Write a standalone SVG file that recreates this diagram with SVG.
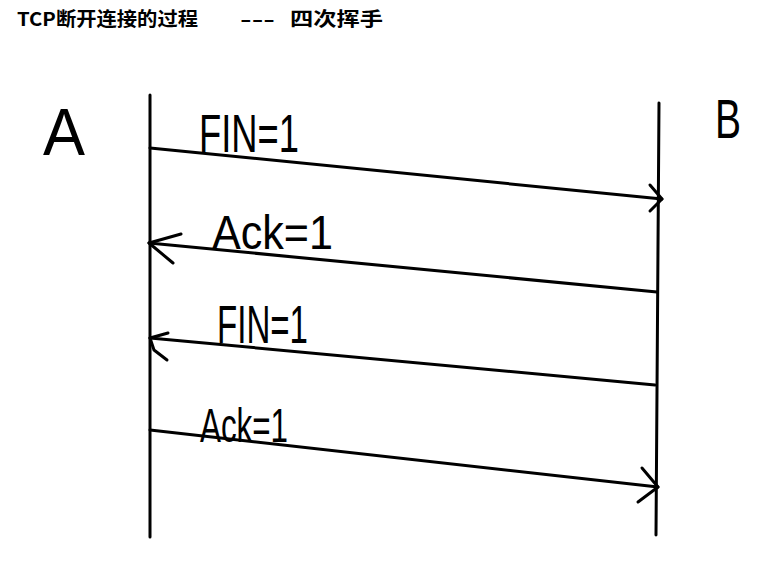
<svg xmlns="http://www.w3.org/2000/svg" width="784" height="582" viewBox="0 0 784 582">
<style>
.ln{stroke:#000;stroke-width:3;fill:none;stroke-linecap:round;stroke-linejoin:round}
.hw{font-family:"Liberation Sans",Arial,sans-serif;fill:#000}
.title{font-family:"Noto Sans CJK SC","Liberation Sans",sans-serif;font-size:19px;font-weight:bold;fill:#000}
</style>
<rect width="784" height="582" fill="#fff"/>
<text class="title" y="26"><tspan x="17" textLength="181" lengthAdjust="spacingAndGlyphs">TCP断开连接的过程</tspan><tspan x="240" textLength="35" lengthAdjust="spacingAndGlyphs">---</tspan><tspan x="290" textLength="93" lengthAdjust="spacingAndGlyphs">四次挥手</tspan></text>
<g id="A">
<line class="ln" x1="150" y1="95" x2="150" y2="537"/>
<text class="hw" x="43" y="155" font-size="66" textLength="42" lengthAdjust="spacingAndGlyphs">A</text>
</g>
<g id="B">
<line class="ln" x1="659" y1="103" x2="656" y2="535"/>
<text class="hw" x="715" y="138" font-size="56" textLength="26" lengthAdjust="spacingAndGlyphs">B</text>
</g>
<g id="connectors">
<g id="msg1">
<line class="ln" x1="150" y1="148" x2="662" y2="199"/>
<polyline class="ln" points="650,185 662,199 650,211"/>
<text class="hw" x="199" y="152" font-size="54" textLength="100" lengthAdjust="spacingAndGlyphs">FIN=1</text>
</g>
<g id="msg2">
<line class="ln" x1="657" y1="292" x2="149" y2="243"/>
<polyline class="ln" points="181,234 149,243 173,263"/>
<text class="hw" x="212" y="249" font-size="49" textLength="121" lengthAdjust="spacingAndGlyphs">Ack=1</text>
</g>
<g id="msg3">
<line class="ln" x1="655" y1="385" x2="150" y2="338"/>
<polyline class="ln" points="168,333 150,338 154,350 167,360"/>
<text class="hw" x="217" y="343" font-size="54" textLength="91" lengthAdjust="spacingAndGlyphs">FIN=1</text>
</g>
<g id="msg4">
<line class="ln" x1="150" y1="430" x2="658" y2="487"/>
<polyline class="ln" points="642,468 658,487 638,502"/>
<text class="hw" x="200" y="442" font-size="48" textLength="88" lengthAdjust="spacingAndGlyphs">Ack=1</text>
</g>
</g>
</svg>
